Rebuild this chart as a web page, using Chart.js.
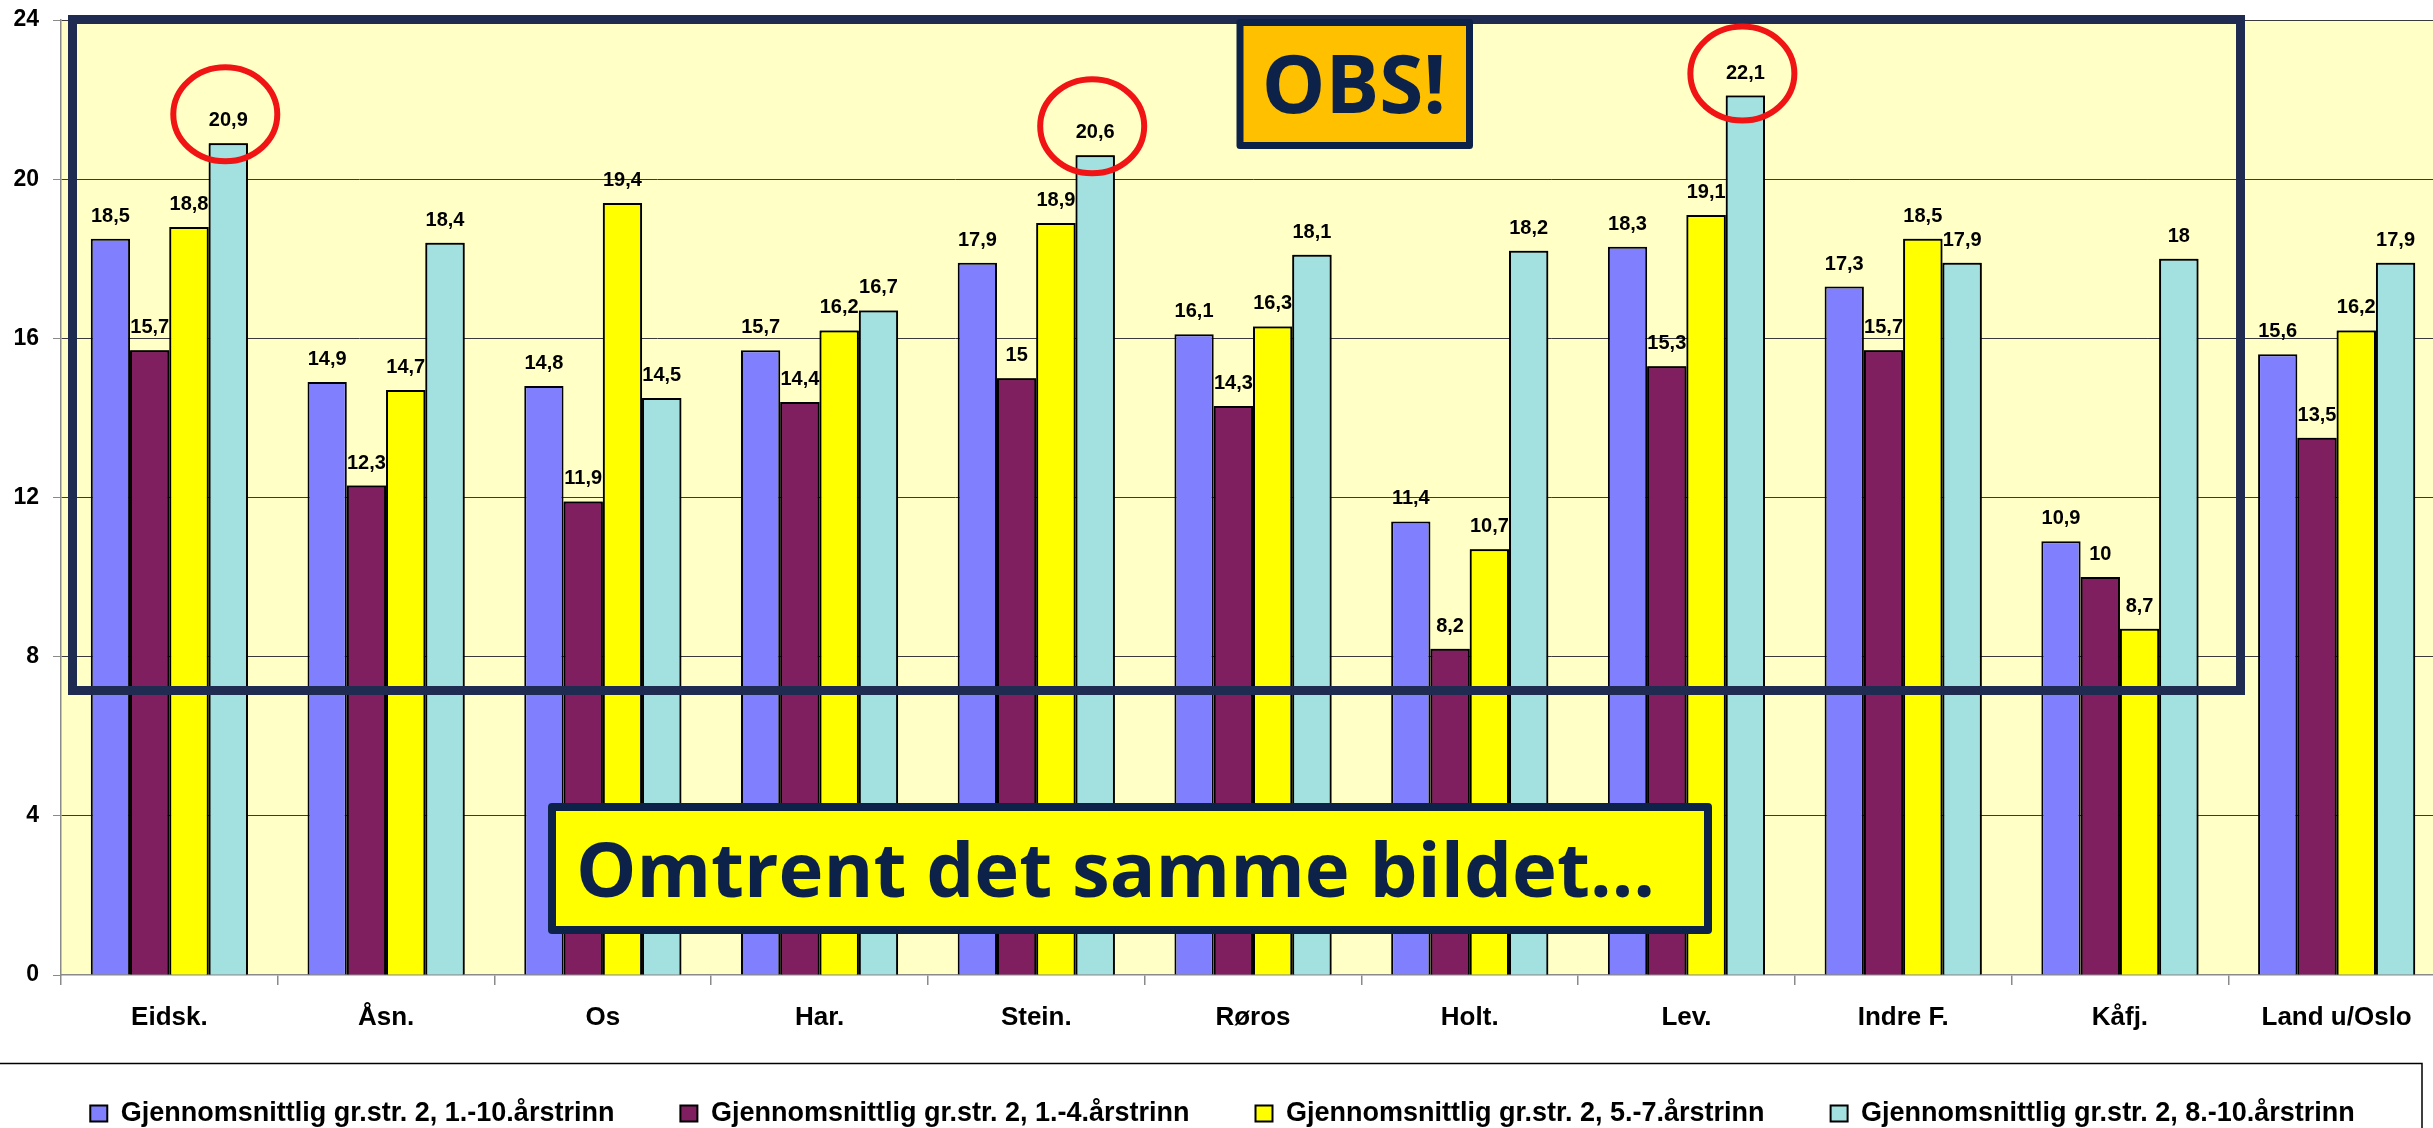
<!DOCTYPE html>
<html>
<head>
<meta charset="utf-8">
<script src="https://cdn.jsdelivr.net/npm/chart.js@4/dist/chart.umd.min.js"></script>
<style>
  html, body { margin: 0; padding: 0; background: #fff; overflow: hidden; }
  #wrap { width: 2450px; height: 1140px; }
</style>
</head>
<body>
<div id="wrap"><canvas id="chart"></canvas></div>
<script>
const categories = ["Eidsk.", "Åsn.", "Os", "Har.", "Stein.", "Røros", "Holt.", "Lev.", "Indre F.", "Kåfj.", "Land u/Oslo"];
const seriesNames = [
  "Gjennomsnittlig gr.str. 2, 1.-10.årstrinn",
  "Gjennomsnittlig gr.str. 2, 1.-4.årstrinn",
  "Gjennomsnittlig gr.str. 2, 5.-7.årstrinn",
  "Gjennomsnittlig gr.str. 2, 8.-10.årstrinn"
];
const grade1to10 = [18.5, 14.9, 14.8, 15.7, 17.9, 16.1, 11.4, 18.3, 17.3, 10.9, 15.6];
const grade1to4 = [15.7, 12.3, 11.9, 14.4, 15, 14.3, 8.2, 15.3, 15.7, 10, 13.5];
const grade5to7 = [18.8, 14.7, 19.4, 16.2, 18.9, 16.3, 10.7, 19.1, 18.5, 8.7, 16.2];
const grade8to10 = [20.9, 18.4, 14.5, 16.7, 20.6, 18.1, 18.2, 22.1, 17.9, 18, 17.9];
const yTicks = [0, 4, 8, 12, 16, 20, 24];
// bars of the 8.-10. series that get a red ring
const circled = [0, 4, 7];

const colors = ["#8080FF", "#7F1F5F", "#FFFF00", "#A3E0E0"];
const sans = "'Liberation Sans', Arial, sans-serif";
const navy = "#0C2249";

const plotBg = {
  id: "plotBg",
  beforeDraw(chart) {
    const { ctx, chartArea: a } = chart;
    ctx.save();
    ctx.fillStyle = "#FFFFC6";
    ctx.fillRect(a.left, a.top, a.right - a.left, a.bottom - a.top);
    ctx.restore();
  }
};

// value labels; the next series' bars are drawn again over them like in the original
const barLabels = {
  id: "barLabels",
  afterDatasetsDraw(chart) {
    const ctx = chart.ctx;
    const n = chart.data.datasets.length;
    ctx.save();
    for (let i = 0; i < n; i++) {
      const meta = chart.getDatasetMeta(i);
      if (i > 0) meta.data.forEach(el => el.draw(ctx));
      ctx.font = "bold 20px " + sans;
      ctx.fillStyle = "#000";
      ctx.textAlign = "center";
      ctx.textBaseline = "alphabetic";
      meta.data.forEach((el, j) => {
        const v = chart.data.datasets[i].data[j];
        ctx.fillText(String(v).replace(".", ","), el.x, el.y - 17);
      });
    }
    ctx.restore();
  }
};

const overlays = {
  id: "overlays",
  afterDatasetsDraw(chart) {
    const ctx = chart.ctx;
    ctx.save();
    // big frame
    ctx.strokeStyle = "#1F2B50";
    ctx.lineWidth = 9;
    ctx.strokeRect(72.5, 19.5, 2168, 671);

    // red rings (the highest one sits a bit lower on its label)
    const meta = chart.getDatasetMeta(3);
    ctx.strokeStyle = "#F01414";
    ctx.lineWidth = 6;
    circled.forEach(i => {
      const el = meta.data[i];
      const dy = el.y < 110 ? -22 : -29;
      ctx.beginPath();
      ctx.ellipse(el.x - 3, el.y + dy, 52, 47, 0, 0, Math.PI * 2);
      ctx.stroke();
    });

    // OBS! box
    ctx.lineJoin = "round";
    ctx.fillStyle = "#FFC000";
    ctx.fillRect(1240, 22.5, 229.5, 123);
    ctx.strokeStyle = navy;
    ctx.lineWidth = 7;
    ctx.strokeRect(1240, 22.5, 229.5, 123);
    ctx.fillStyle = navy;
    ctx.font = "bold 80px 'Open Sans', sans-serif";
    ctx.textAlign = "center";
    ctx.textBaseline = "alphabetic";
    ctx.fillText("OBS!", 1354, 113);

    // bottom note
    ctx.fillStyle = "#FFFF00";
    ctx.fillRect(552, 807, 1156, 123);
    ctx.lineWidth = 8;
    ctx.strokeRect(552, 807, 1156, 123);
    ctx.fillStyle = navy;
    ctx.font = "bold 76px 'Open Sans', sans-serif";
    ctx.textAlign = "left";
    ctx.fillText("Omtrent det samme bildet…", 576, 897);
    ctx.restore();
  },
  afterDraw(chart) {
    const ctx = chart.ctx;
    ctx.save();
    ctx.strokeStyle = "#000";
    ctx.lineWidth = 1.5;
    ctx.beginPath();
    ctx.moveTo(0, 1063.5);
    ctx.lineTo(2422, 1063.5);
    ctx.lineTo(2422, 1140);
    ctx.stroke();
    ctx.restore();
  }
};

const series = [grade1to10, grade1to4, grade5to7, grade8to10];

new Chart(document.getElementById("chart"), {
  type: "bar",
  data: {
    labels: categories,
    datasets: series.map((d, i) => ({
      label: seriesNames[i],
      data: d,
      backgroundColor: colors[i],
      borderColor: "#000",
      borderWidth: 2,
      borderSkipped: "bottom",
      barPercentage: 1,
      categoryPercentage: 0.725
    }))
  },
  options: {
    responsive: true,
    maintainAspectRatio: false,
    animation: false,
    devicePixelRatio: 1,
    layout: { padding: { top: 20, right: 5, bottom: 3, left: 0 } },
    scales: {
      x: {
        afterFit: s => { s.height = 59; },
        grid: { offset: true, drawOnChartArea: false, tickLength: 10, color: "#8a8a8a", lineWidth: 1.5 },
        border: { color: "#8a8a8a", width: 1.5 },
        ticks: {
          font: { family: sans, size: 26, weight: "bold" },
          color: "#000",
          padding: 17,
          maxRotation: 0,
          autoSkip: false
        }
      },
      y: {
        min: 0,
        max: 24,
        afterBuildTicks: s => { s.ticks = yTicks.map(v => ({ value: v })); },
        afterFit: s => { s.width = 61; s.paddingTop = 0; s.paddingBottom = 0; },
        grid: {
          color: c => (c.tick && c.tick.value === 0 ? "rgba(0,0,0,0)" : "#3a3a3a"),
          tickColor: "#8a8a8a",
          tickLength: 8,
          lineWidth: 1
        },
        border: { color: "#8a8a8a", width: 1.5 },
        ticks: {
          font: { family: sans, size: 23, weight: "bold" },
          color: "#000",
          padding: 14
        }
      }
    },
    plugins: {
      legend: {
        position: "bottom",
        labels: {
          font: { family: sans, size: 27, weight: "bold" },
          color: "#000",
          boxWidth: 17,
          boxHeight: 16,
          padding: 66
        }
      },
      tooltip: { enabled: false }
    }
  },
  plugins: [plotBg, barLabels, overlays]
});
</script>
</body>
</html>
